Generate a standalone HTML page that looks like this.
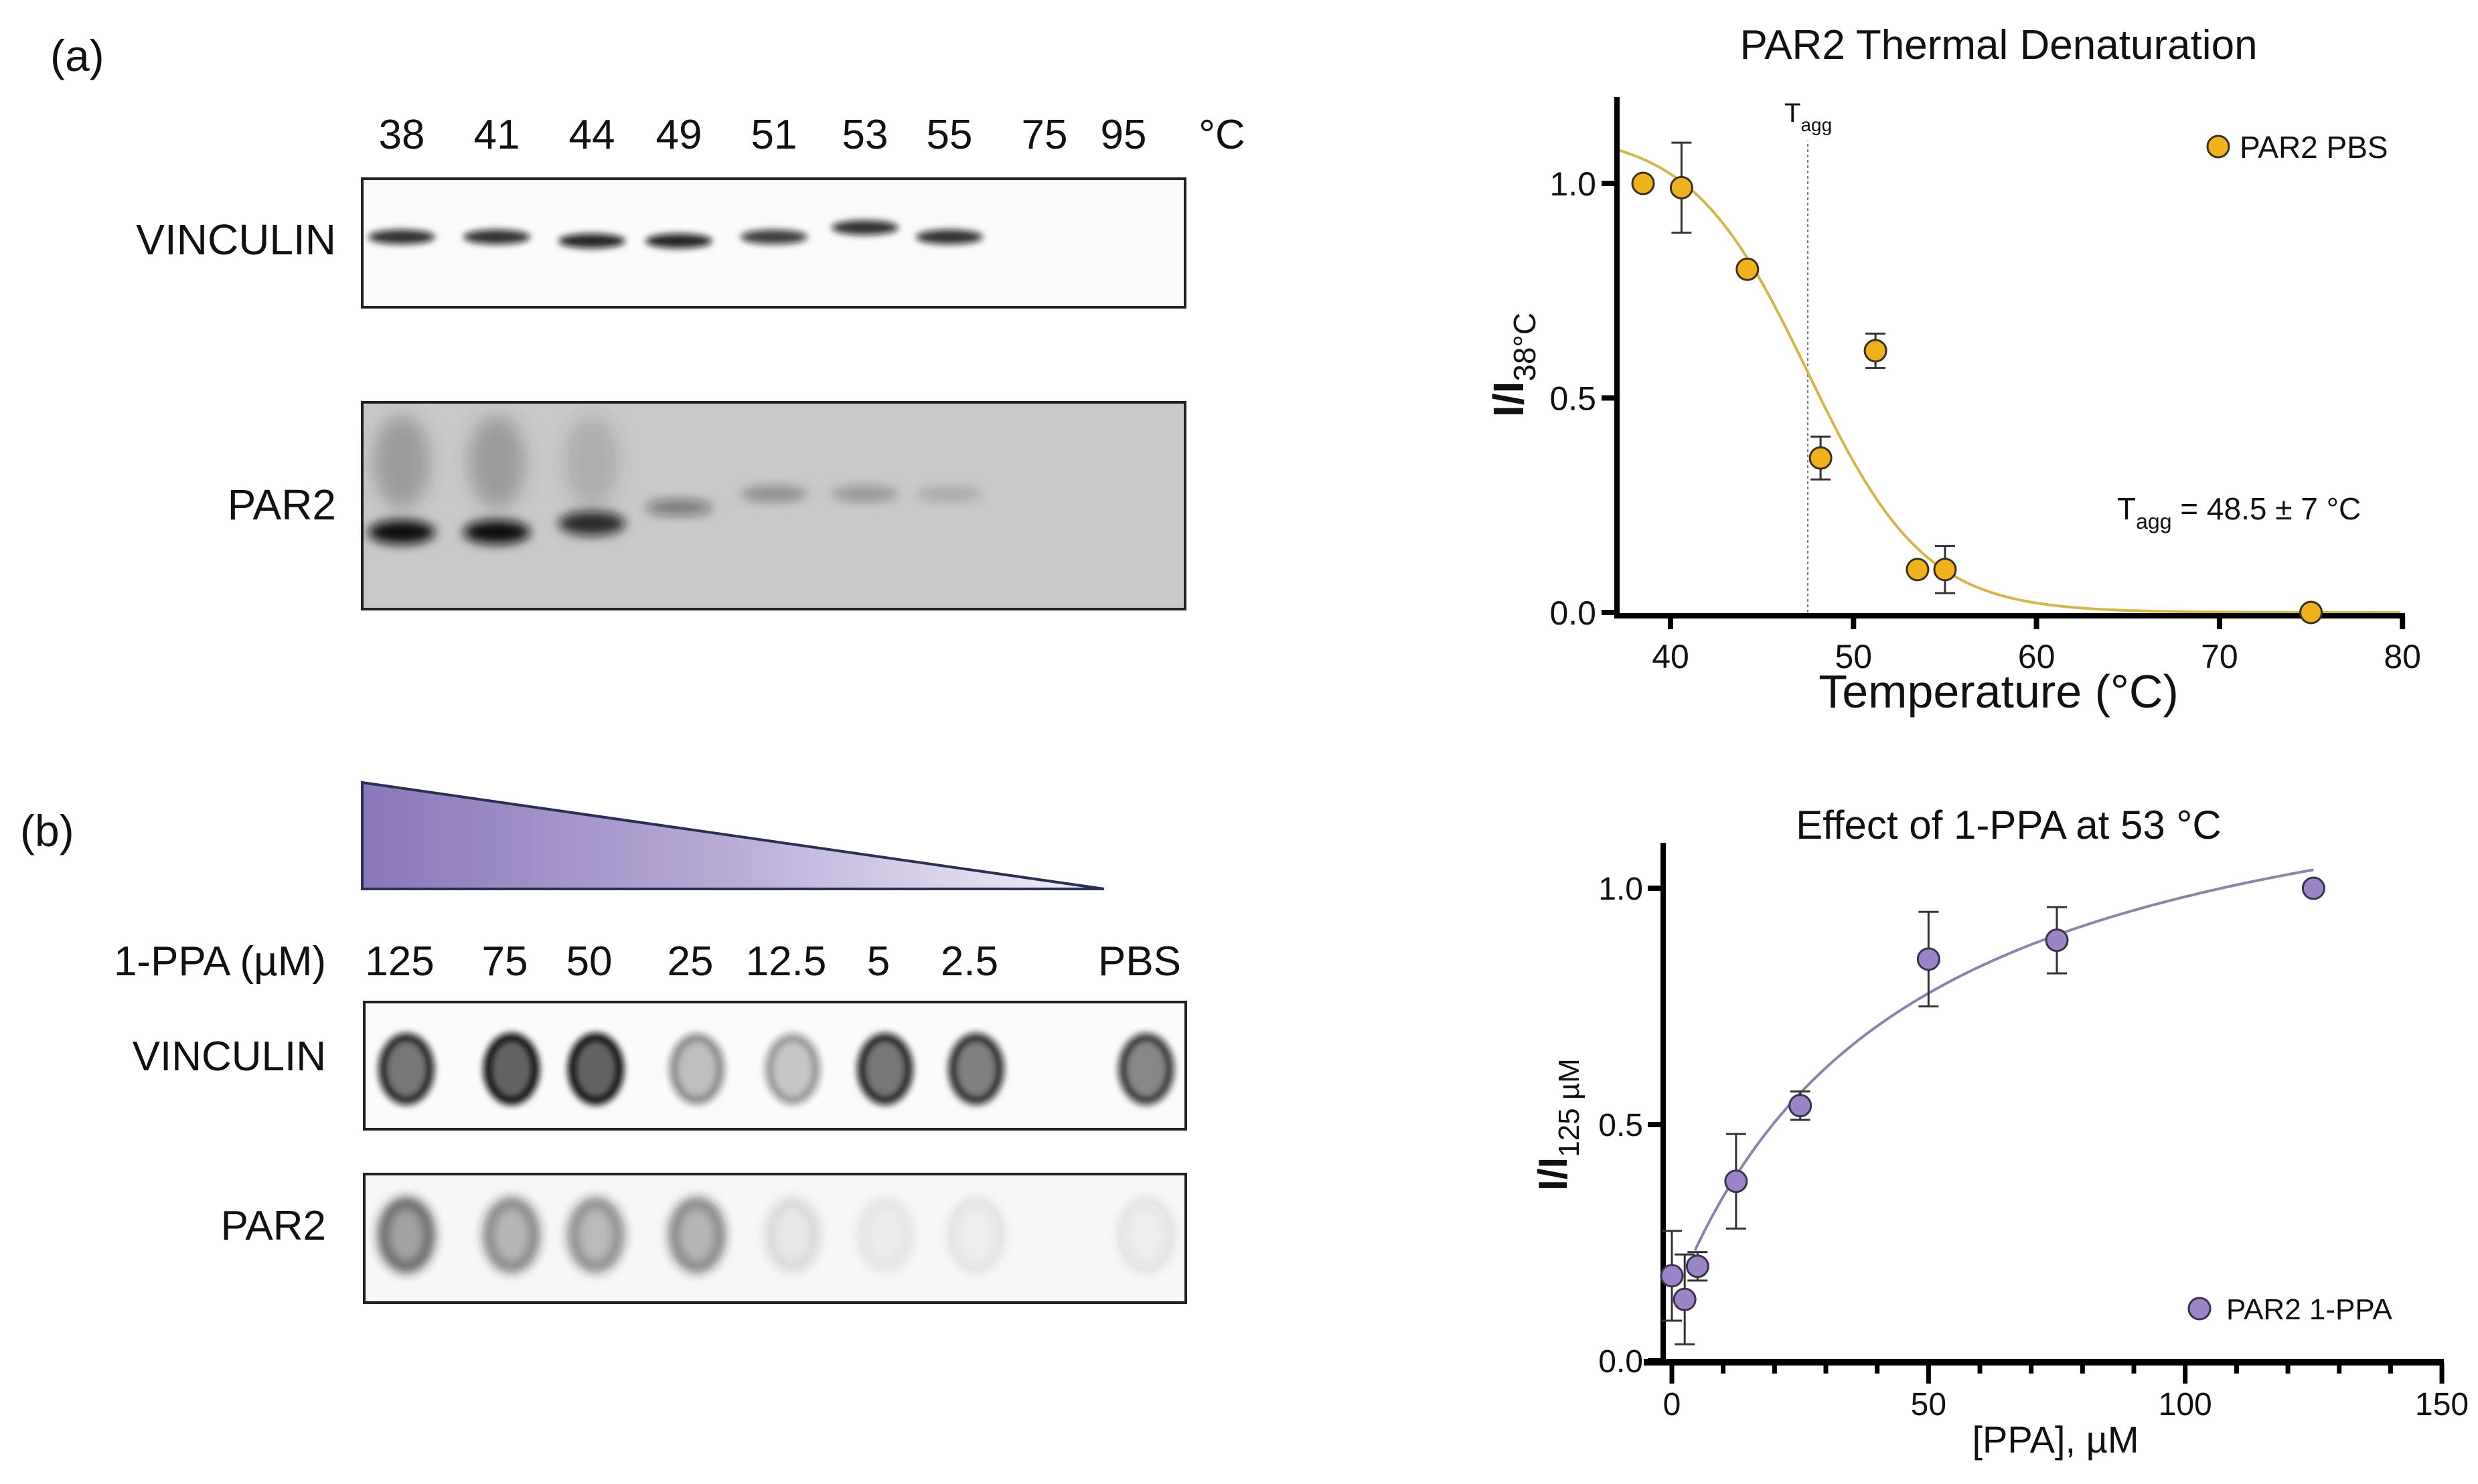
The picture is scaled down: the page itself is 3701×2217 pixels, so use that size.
<!DOCTYPE html>
<html><head><meta charset="utf-8">
<style>
html,body{margin:0;padding:0;background:#fff;overflow:hidden;}
svg{display:block;}
text{font-family:"Liberation Sans Narrow","Liberation Sans",sans-serif;fill:#111;}
</style></head>
<body>
<svg id="fig" width="3701" height="2217" viewBox="0 0 3701 2217" xmlns="http://www.w3.org/2000/svg">
<defs>
<filter id="blur8" x="-50%" y="-50%" width="200%" height="200%"><feGaussianBlur stdDeviation="8"/></filter>
<filter id="blur14" x="-50%" y="-50%" width="200%" height="200%"><feGaussianBlur stdDeviation="14"/></filter>
<filter id="blur5" x="-50%" y="-50%" width="200%" height="200%"><feGaussianBlur stdDeviation="5"/></filter>
<linearGradient id="tri" x1="0" x2="1" y1="0" y2="0">
<stop offset="0" stop-color="#8a78b8"/><stop offset="0.45" stop-color="#b4a6d4"/><stop offset="1" stop-color="#f4f2fa"/>
</linearGradient>
</defs>

<text x="75" y="106" font-size="66">(a)</text>
<g id="tempLabels" font-size="62" text-anchor="middle"></g>
<text x="502" y="380" font-size="64" text-anchor="end">VINCULIN</text>
<rect x="541" y="267" width="1229" height="192" fill="#fbfbfb" stroke="#222" stroke-width="4"/>
<g id="vinBands"></g>
<text x="502" y="776" font-size="64" text-anchor="end">PAR2</text>
<rect x="541" y="601" width="1229" height="309" fill="#c9c9c9" stroke="#222" stroke-width="4"/>
<g id="parBands"></g>

<text x="30" y="1264" font-size="66">(b)</text>
<polygon points="541,1169 1649,1328 541,1328" fill="url(#tri)" stroke="#2a2f55" stroke-width="4"/>
<text x="487" y="1457" font-size="62" text-anchor="end">1-PPA (µM)</text>
<g id="concLabels" font-size="62" text-anchor="middle"></g>
<text x="487" y="1599" font-size="62" text-anchor="end">VINCULIN</text>
<rect x="544" y="1497" width="1227" height="190" fill="#fbfbfb" stroke="#222" stroke-width="4"/>
<g id="vinDots"></g>
<text x="487" y="1852" font-size="62" text-anchor="end">PAR2</text>
<rect x="544" y="1754" width="1227" height="192" fill="#f7f7f7" stroke="#222" stroke-width="4"/>
<g id="parDots"></g>

<g id="chart1"></g>
<g id="chart2"></g>
</svg>

<script>
const NS="http://www.w3.org/2000/svg";
function mk(tag,attrs,parent,txt){const e=document.createElementNS(NS,tag);for(const k in attrs)e.setAttribute(k,attrs[k]);if(txt!==undefined)e.textContent=txt;parent.appendChild(e);return e;}

// ---- Chart 1 data ----
const tempX=[38.5,40.6,44.2,48.2,51.2,53.5,55,75];
const tempY=[1.0,0.99,0.80,0.36,0.61,0.10,0.10,0.0];
const tempErr=[0,0.105,0,0.05,0.04,0,0.055,0];
const tempXTicks=[40,50,60,70,80];
const tempYTicks=[0.0,0.5,1.0];
const fitTop=[1.12], fitV50=[47.5], fitSlope=[3.2];
const taggLine=[47.5];

// ---- Chart 2 data ----
const ppaX=[0,2.5,5,12.5,25,50,75,125];
const ppaY=[0.18,0.13,0.20,0.38,0.54,0.85,0.89,1.0];
const ppaErr=[0.095,0.095,0.03,0.1,0.03,0.1,0.07,0];
const ppaXTicks=[0,50,100,150];
const ppaYTicks=[0.0,0.5,1.0];
const hypY0=[0.12], hypBmax=[1.25], hypKd=[45];

// ---- blot labels ----
const tempLanes=["38","41","44","49","51","53","55","75","95","°C"];
const tempLaneX=[600,742,884,1014,1156,1292,1418,1560,1678,1825];
const concLanes=["125","75","50","25","12.5","5","2.5","PBS"];
const concLaneX=[597,754,880,1031,1174,1312,1448,1702];
const vinIntensity=[0.85,0.85,0.9,0.9,0.8,0.85,0.85,0,0];
const parIntensity=[1.0,1.0,0.85,0.45,0.3,0.25,0.15,0,0];
const vinDotDark=[0.85,1.0,1.0,0.4,0.35,0.85,0.8,0.75];
const parDotDark=[0.8,0.6,0.55,0.6,0.12,0.08,0.1,0.1];

const tl=document.getElementById('tempLabels');
tempLanes.forEach((t,i)=>{const e=mk('text',{x:tempLaneX[i],y:222},tl,t);});
const cl=document.getElementById('concLabels');
concLanes.forEach((t,i)=>{const e=mk('text',{x:concLaneX[i],y:1457},cl,t);});

const vb=document.getElementById('vinBands');
vinIntensity.forEach((v,i)=>{if(v<=0)return;const y=i==5?340:(i>=2&&i<=3?360:354);
 const e=mk('ellipse',{cx:tempLaneX[i],cy:y,rx:50,ry:11,fill:'#111','fill-opacity':v,filter:'url(#blur5)'},vb);
 });
const pb=document.getElementById('parBands');
parIntensity.forEach((v,i)=>{if(v<=0)return;
 const y=i<2?795:(i==2?782:(i==3?758:738));
 const e=mk('ellipse',{cx:tempLaneX[i],cy:y,rx:50,ry:v>0.8?18:12,fill:'#111','fill-opacity':v,filter:'url(#blur8)'},pb);
 
 if(i<3){const s=mk('ellipse',{cx:tempLaneX[i],cy:690,rx:42,ry:70,fill:'#444','fill-opacity':i==2?0.2:0.35,filter:'url(#blur14)'},pb);
 }});

const vd=document.getElementById('vinDots');
vinDotDark.forEach((v,i)=>{
 const e=mk('ellipse',{cx:concLaneX[i]+10,cy:1597,rx:36,ry:48,fill:'#222','fill-opacity':v*0.7,stroke:'#111','stroke-opacity':v,'stroke-width':12,filter:'url(#blur5)'},vd);
 });
const pd=document.getElementById('parDots');
parDotDark.forEach((v,i)=>{
 const e=mk('ellipse',{cx:concLaneX[i]+10,cy:1845,rx:36,ry:50,fill:'#333','fill-opacity':v*0.55,stroke:'#222','stroke-opacity':v,'stroke-width':12,filter:'url(#blur8)'},pd);
 });

// ---- Chart 1 ----
(function(){
 const g=document.getElementById('chart1');
 const xs=v=>2495+(v-40)*27.33, ys=v=>915-v*641;
 const t=mk('text',{x:2985,y:88,'font-size':62,'text-anchor':'middle'},g,'PAR2 Thermal Denaturation');
 
 const dl=mk('line',{x1:xs(taggLine[0]),x2:xs(taggLine[0]),y1:ys(0),y2:210,stroke:'#777','stroke-width':2,'stroke-dasharray':'4 4'},g);
 
 const tg=mk('text',{x:2665,y:182,'font-size':40},g);
 
 tg.innerHTML='T<tspan font-size="28" dy="14">agg</tspan>';
 let d='';for(let x=37.1;x<=80;x+=0.2){const y=fitTop[0]/(1+Math.exp((x-fitV50[0])/fitSlope[0]));d+=(d?'L':'M')+xs(x).toFixed(1)+','+ys(y).toFixed(1);}
 const c=mk('path',{d:d,fill:'none',stroke:'#d4b54a','stroke-width':4},g);
 
 const ya=mk('line',{x1:2415,x2:2415,y1:145,y2:924,stroke:'#000','stroke-width':8},g);
 const xa=mk('line',{x1:2411,x2:3592,y1:920,y2:920,stroke:'#000','stroke-width':8},g);
 tempXTicks.forEach(v=>{const l=mk('line',{x1:xs(v),x2:xs(v),y1:920,y2:940,stroke:'#000','stroke-width':8},g);
  const tx=mk('text',{x:xs(v),y:998,'font-size':50,'text-anchor':'middle'},g,String(v));});
 tempYTicks.forEach(v=>{const l=mk('line',{x1:2392,x2:2415,y1:ys(v),y2:ys(v),stroke:'#000','stroke-width':8},g);
  const tx=mk('text',{x:2384,y:ys(v)+18,'font-size':50,'text-anchor':'end'},g,v.toFixed(1));});
 const xt=mk('text',{x:2985,y:1057,'font-size':70,'text-anchor':'middle'},g,'Temperature (°C)');
 const yt=mk('text',{x:0,y:0,'font-size':64,transform:'translate(2275,545) rotate(-90)','text-anchor':'middle','font-weight':'bold'},g);
 
 yt.innerHTML='I/I<tspan font-size="46" font-weight="normal" dy="18">38°C</tspan>';
 tempX.forEach((x,i)=>{
  if(tempErr[i]>0){const e=tempErr[i];
   const p=mk('path',{d:`M${xs(x)},${ys(tempY[i]-e)}V${ys(tempY[i]+e)}M${xs(x)-15},${ys(tempY[i]-e)}h30M${xs(x)-15},${ys(tempY[i]+e)}h30`,stroke:'#333','stroke-width':3,fill:'none'},g);
   }
  const m=mk('circle',{cx:xs(x),cy:ys(tempY[i]),r:16,fill:'#f0b11f',stroke:'#3a3020','stroke-width':3},g);
  });
 const lm=mk('circle',{cx:3313,cy:219,r:16,fill:'#f0b11f',stroke:'#3a3020','stroke-width':3},g);
 const lt=mk('text',{x:3345,y:236,'font-size':46},g,'PAR2 PBS');
 const an=mk('text',{x:3162,y:776,'font-size':46},g);
 an.innerHTML='T<tspan font-size="32" dy="14">agg</tspan><tspan dy="-14"> = 48.5 ± 7 °C</tspan>';
})();

// ---- Chart 2 ----
(function(){
 const g=document.getElementById('chart2');
 const xs=v=>2497+v*7.667, ys=v=>2033-v*706;
 const t=mk('text',{x:3000,y:1253,'font-size':60,'text-anchor':'middle'},g,'Effect of 1-PPA at 53 °C');
 
 let d='';for(let x=4.5;x<=125.2;x+=0.5){const y=hypY0[0]+hypBmax[0]*x/(hypKd[0]+x);d+=(d?'L':'M')+xs(x).toFixed(1)+','+ys(y).toFixed(1);}
 const c=mk('path',{d:d,fill:'none',stroke:'#8a84ad','stroke-width':4},g);
 const ya=mk('line',{x1:2484,x2:2484,y1:1259,y2:2040,stroke:'#000','stroke-width':8},g);
 const xa=mk('line',{x1:2455,x2:3650,y1:2035,y2:2035,stroke:'#000','stroke-width':10},g);
 for(let v=0;v<=150;v+=10){const major=v%50===0;const l=mk('line',{x1:xs(v),x2:xs(v),y1:2035,y2:major?2067:2052,stroke:'#000','stroke-width':7},g);}
 ppaXTicks.forEach(v=>{const tx=mk('text',{x:xs(v),y:2114,'font-size':48,'text-anchor':'middle'},g,String(v));});
 ppaYTicks.forEach(v=>{const l=mk('line',{x1:2461,x2:2484,y1:ys(v),y2:ys(v),stroke:'#000','stroke-width':8},g);
  const tx=mk('text',{x:2454,y:ys(v)+17,'font-size':48,'text-anchor':'end'},g,v.toFixed(1));});
 const xt=mk('text',{x:3070,y:2170,'font-size':56,'text-anchor':'middle'},g,'[PPA], µM');
 const yt=mk('text',{x:0,y:0,'font-size':60,transform:'translate(2340,1680) rotate(-90)','text-anchor':'middle','font-weight':'bold'},g);
 
 yt.innerHTML='I/I<tspan font-size="44" font-weight="normal" dy="18">125 µM</tspan>';
 ppaX.forEach((x,i)=>{
  if(ppaErr[i]>0){const e=ppaErr[i];
   const p=mk('path',{d:`M${xs(x)},${ys(ppaY[i]-e)}V${ys(ppaY[i]+e)}M${xs(x)-15},${ys(ppaY[i]-e)}h30M${xs(x)-15},${ys(ppaY[i]+e)}h30`,stroke:'#333','stroke-width':3,fill:'none'},g);
   }
  const m=mk('circle',{cx:xs(x),cy:ys(ppaY[i]),r:16,fill:'#9a86c6',stroke:'#3a3050','stroke-width':3},g);
  });
 const lm=mk('circle',{cx:3285,cy:1955,r:16,fill:'#9a86c6',stroke:'#3a3050','stroke-width':3},g);
 const lt=mk('text',{x:3325,y:1971,'font-size':44},g,'PAR2 1-PPA');
})();
</script>
</body></html>
